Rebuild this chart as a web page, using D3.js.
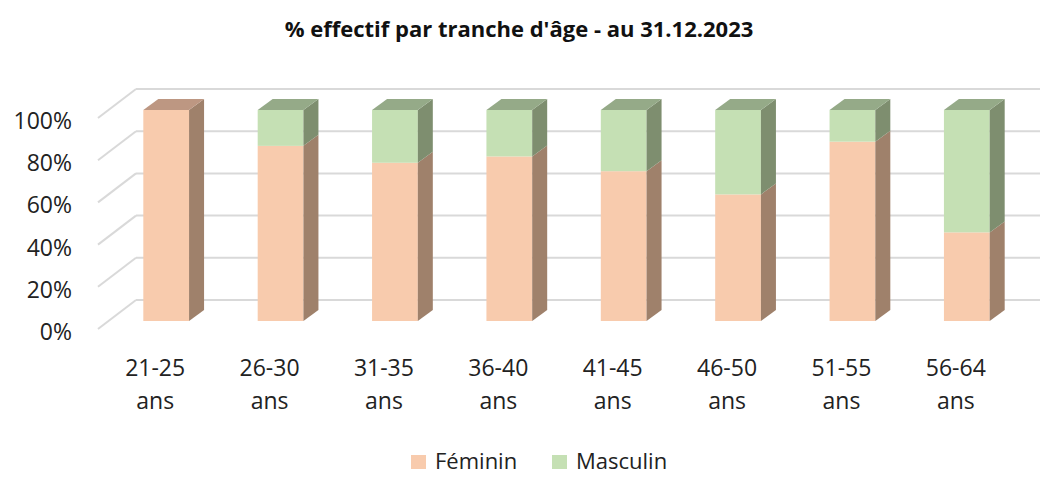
<!DOCTYPE html>
<html>
<head>
<meta charset="utf-8">
<script src="https://cdn.jsdelivr.net/npm/d3@7"></script>
<style>
  body { margin: 0; background: #fff; }
  svg { display: block; font-family: "Open Sans", sans-serif; }
</style>
</head>
<body>
<div id="chart"></div>
<script>
const categories = ["21-25 ans", "26-30 ans", "31-35 ans", "36-40 ans", "41-45 ans", "46-50 ans", "51-55 ans", "56-64 ans"];
const feminin = [100, 83, 75, 78, 71, 60, 85, 42];
const masculin = [0, 17, 25, 22, 29, 40, 15, 58];
const yTicks = [0, 20, 40, 60, 80, 100];
const seriesNames = ["Féminin", "Masculin"];

const width = 1043, height = 477;
const colors = {
  "Féminin": { front: "#f8cbad", side: "#9f816b", top: "#bd9782" },
  "Masculin": { front: "#c5e0b4", side: "#7e8e6f", top: "#95aa88" }
};
// depth offsets relative to the bar front plane
const barDepth = { dx: 15, dy: -11 };
const wallOff = { dx: 27, dy: -21 };
const floorOff = { dx: -11, dy: 8 };

const svg = d3.select("#chart").append("svg")
  .attr("width", width)
  .attr("height", height);

const x = d3.scaleBand()
  .domain(categories)
  .range([109, 1024])
  .paddingInner(0.6)
  .paddingOuter(0.3);

const y = d3.scaleLinear()
  .domain([0, 100])
  .range([321, 110]);

svg.append("text")
  .attr("x", 519)
  .attr("y", 28)
  .attr("text-anchor", "middle")
  .attr("dominant-baseline", "central")
  .style("font-weight", "bold")
  .style("font-size", "22px")
  .attr("fill", "#111")
  .text("% effectif par tranche d'âge - au 31.12.2023");

// back wall gridlines + floor diagonals
const wallLeft = x.range()[0] + wallOff.dx;
const grid = svg.append("g");
yTicks.forEach(t => {
  const yb = y(t) + wallOff.dy;
  grid.append("line")
    .attr("x1", wallLeft).attr("x2", 1040)
    .attr("y1", yb).attr("y2", yb)
    .attr("stroke", "#d9d9d9").attr("stroke-width", 2);
  grid.append("line")
    .attr("x1", wallLeft).attr("y1", yb)
    .attr("x2", wallLeft - (wallOff.dx - floorOff.dx)).attr("y2", yb + (floorOff.dy - wallOff.dy))
    .attr("stroke", "#d9d9d9").attr("stroke-width", 2);
});

// y labels on the front plane
svg.append("g")
  .selectAll("text")
  .data(yTicks)
  .join("text")
  .attr("x", 72)
  .attr("y", d => y(d) + floorOff.dy + 2)
  .attr("text-anchor", "end")
  .attr("dominant-baseline", "central")
  .style("font-size", "23px")
  .attr("fill", "#222")
  .text(d => d + "%");

const table = categories.map((c, i) => ({ cat: c, "Féminin": feminin[i], "Masculin": masculin[i] }));
const stacked = d3.stack().keys(seriesNames)(table);
const bw = x.bandwidth();

stacked.forEach(layer => {
  const col = colors[layer.key];
  const g = svg.append("g");
  layer.forEach(seg => {
    const v0 = seg[0], v1 = seg[1];
    if (v1 - v0 <= 0) return;
    const x0 = x(seg.data.cat), x1 = x0 + bw;
    const yTop = y(v1), yBot = y(v0);
    g.append("rect")
      .attr("x", x0).attr("y", yTop)
      .attr("width", bw).attr("height", yBot - yTop)
      .attr("fill", col.front);
    g.append("path")
      .attr("d", `M${x1},${yBot}L${x1 + barDepth.dx},${yBot + barDepth.dy}L${x1 + barDepth.dx},${yTop + barDepth.dy}L${x1},${yTop}Z`)
      .attr("fill", col.side);
    if (v1 >= 100) {
      g.append("path")
        .attr("d", `M${x0},${yTop}L${x0 + barDepth.dx},${yTop + barDepth.dy}L${x1 + barDepth.dx},${yTop + barDepth.dy}L${x1},${yTop}Z`)
        .attr("fill", col.top);
    }
  });
});

// category labels
const catG = svg.append("g");
categories.forEach(c => {
  const parts = c.split(" ");
  const cx = x(c) + bw / 2 + floorOff.dx;
  parts.forEach((p, j) => {
    catG.append("text")
      .attr("x", cx)
      .attr("y", 367 + j * 33)
      .attr("text-anchor", "middle")
      .attr("dominant-baseline", "central")
      .style("font-size", "23px")
      .attr("fill", "#222")
      .text(p);
  });
});

// legend
const legendItems = [
  { name: "Féminin", x: 411 },
  { name: "Masculin", x: 552 }
];
const legend = svg.append("g");
legendItems.forEach(d => {
  legend.append("rect")
    .attr("x", d.x).attr("y", 455)
    .attr("width", 15).attr("height", 14)
    .attr("fill", colors[d.name].front);
  legend.append("text")
    .attr("x", d.x + 24)
    .attr("y", 460)
    .attr("dominant-baseline", "central")
    .style("font-size", "22px")
    .attr("fill", "#222")
    .text(d.name);
});
</script>
</body>
</html>
